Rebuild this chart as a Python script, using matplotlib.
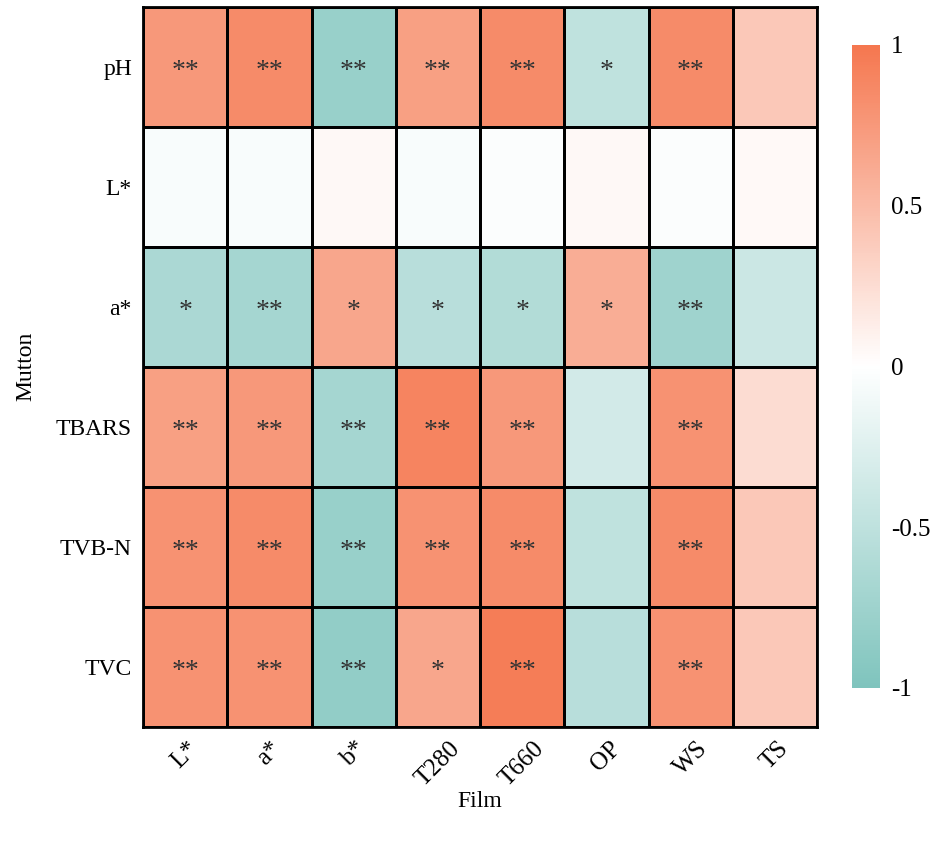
import matplotlib.pyplot as plt
import numpy as np
from matplotlib.colors import LinearSegmentedColormap

plt.rcParams['font.family'] = ['Liberation Serif', 'Times New Roman', 'DejaVu Serif']

# data
rows = ['pH', 'L*', 'a*', 'TBARS', 'TVB-N', 'TVC']
cols = ['L*', 'a*', 'b*', 'T280', 'T660', 'OP', 'WS', 'TS']
ph    = [0.75, 0.85, -0.80, 0.70, 0.85, -0.50, 0.85, 0.40]
lstar = [-0.05, -0.05, 0.05, -0.05, -0.03, 0.05, -0.03, 0.04]
astar = [-0.65, -0.70, 0.65, -0.55, -0.60, 0.60, -0.75, -0.40]
tbars = [0.70, 0.75, -0.70, 0.90, 0.75, -0.35, 0.80, 0.25]
tvbn  = [0.80, 0.85, -0.80, 0.80, 0.85, -0.50, 0.85, 0.40]
tvc   = [0.80, 0.80, -0.85, 0.65, 0.95, -0.55, 0.80, 0.40]
sig = [['**', '**', '**', '**', '**', '*', '**', ''],
       ['', '', '', '', '', '', '', ''],
       ['*', '**', '*', '*', '*', '*', '**', ''],
       ['**', '**', '**', '**', '**', '', '**', ''],
       ['**', '**', '**', '**', '**', '', '**', ''],
       ['**', '**', '**', '*', '**', '', '**', '']]

data = np.array([ph, lstar, astar, tbars, tvbn, tvc])

cmap = LinearSegmentedColormap.from_list('tealcoral', ['#7fc4bd', '#ffffff', '#f5774f'])

fig = plt.figure(figsize=(9.35, 8.44), dpi=100)
ax = fig.add_axes([0.153, 0.139, 0.721, 0.853])
cax = fig.add_axes([0.911, 0.185, 0.030, 0.762])

mesh = ax.pcolormesh(data, cmap=cmap, vmin=-1, vmax=1, edgecolors='black', linewidth=2)
ax.set_xlim(0, len(cols))
ax.set_ylim(len(rows), 0)
ax.set_xticks(np.arange(len(cols)) + 0.5)
ax.set_xticklabels(cols, rotation=45, fontsize=18)
ax.set_yticks(np.arange(len(rows)) + 0.5)
ax.set_yticklabels(rows, fontsize=17)
ax.tick_params(length=0, pad=8)
for s in ax.spines.values():
    s.set_linewidth(2)

# asterisks sit high in the glyph box, nudge them down a little
for i in range(len(rows)):
    for j in range(len(cols)):
        if sig[i][j]:
            ax.text(j + 0.5, i + 0.54, sig[i][j], ha='center', va='center',
                    fontsize=20, color='#333333')

ax.set_xlabel('Film', fontsize=17, labelpad=0)
ax.set_ylabel('Mutton', fontsize=17, labelpad=14)

cb = fig.colorbar(mesh, cax=cax, ticks=[-1, -0.5, 0, 0.5, 1])
cb.outline.set_visible(False)
cb.ax.set_yticklabels(['-1', '-0.5', '0', '0.5', '1'], fontsize=18)
cb.ax.tick_params(length=0, pad=8)

fig.savefig('out.png', dpi=100)
